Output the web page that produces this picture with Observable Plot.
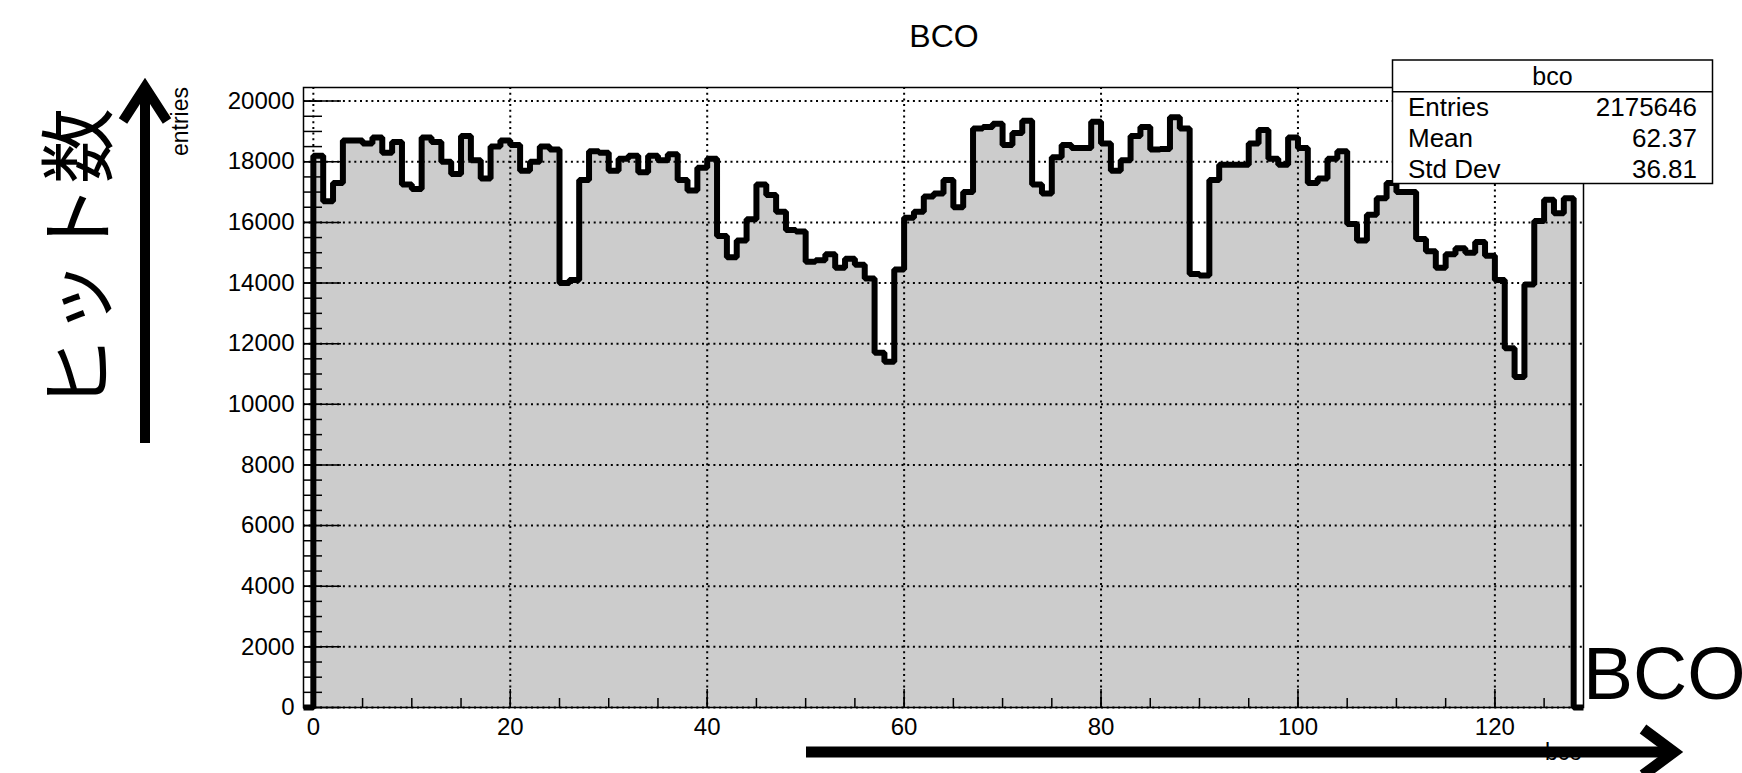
<!DOCTYPE html>
<html><head><meta charset="utf-8">
<script src="https://cdn.jsdelivr.net/npm/d3@7"></script>
<script src="https://cdn.jsdelivr.net/npm/@observablehq/plot@0.6"></script>
<style>
html,body{margin:0;padding:0;background:#fff;}
#wrap{position:relative;width:1742px;height:773px;overflow:hidden;font-family:"Liberation Sans",Arial,Helvetica,sans-serif;}
#wrap svg{position:absolute;left:0;top:0;}
</style></head><body><div id="wrap"></div>
<script>
// bin lower edges: empty bin at -1, bins 0..127, empty bin at 128
const binLow = d3.range(-1, 129);
const counts = [0,
  18200,16700,17300,18700,18700,18600,18800,18300,18650,17250,
  17100,18800,18650,18000,17600,18850,18050,17450,18500,18700,
  18550,17700,18000,18500,18400,14000,14100,17400,18350,18300,
  17700,18100,18200,17650,18200,18050,18250,17400,17050,17800,
  18100,15550,14850,15400,16100,17250,16900,16350,15750,15700,
  14700,14750,14950,14500,14800,14600,14150,11700,11400,14450,
  16150,16350,16850,16950,17400,16500,17000,19100,19150,19250,
  18550,18950,19350,17250,16950,18150,18550,18450,18450,19320,
  18600,17700,18050,18850,19150,18400,18420,19470,19100,14300,
  14250,17400,17900,17900,17900,18600,19050,18100,17900,18800,
  18450,17300,17450,18100,18350,15950,15400,16250,16800,17300,
  17000,17000,15450,15050,14500,14950,15150,15000,15350,14900,
  14100,11850,10900,13950,16050,16750,16300,16800,
  0];
const xMajor = [0,20,40,60,80,100,120];
const xMinor = [0,5,10,15,20,25,30,35,40,45,50,55,60,65,70,75,80,85,90,95,100,105,110,115,120,125];
const yMajor = [0,2000,4000,6000,8000,10000,12000,14000,16000,18000,20000];
const yMinor = d3.range(0, 20001, 500);
const xDomain = [-1, 129];
const yDomain = [0, 20449];
const statsTitle = "bco";
const statsNames = ["Entries","Mean","Std Dev"];
const statsValues = ["2175646","62.37","36.81"];

const steps = binLow.map((b, i) => ({x: b, y: counts[i]}));
steps.push({x: 129, y: 0});

const chart = Plot.plot({
  width: 1742, height: 773,
  marginLeft: 303, marginRight: 159, marginTop: 87, marginBottom: 66,
  style: {fontFamily: '"Liberation Sans",Arial,Helvetica,sans-serif', fontSize: "24px", color: "black", background: "transparent", overflow: "visible"},
  x: {domain: xDomain},
  y: {domain: yDomain},
  marks: [
    Plot.areaY(steps, {x: "x", y: "y", curve: "step-after", fill: "#cccccc"}),
    Plot.ruleX(xMajor, {stroke: "black", strokeWidth: 2, strokeDasharray: "2,3.7"}),
    Plot.ruleY(yMajor, {stroke: "black", strokeWidth: 2, strokeDasharray: "2,3.7"}),
    Plot.line(steps, {x: "x", y: "y", curve: "step-after", stroke: "black", strokeWidth: 6, strokeLinejoin: "miter", strokeLinecap: "butt"}),
    Plot.axisX(xMinor, {tickSize: -9, tickFormat: () => "", strokeWidth: 1.5, label: null}),
    Plot.axisX(xMajor, {tickSize: -18, tickPadding: 28, fontSize: 24, strokeWidth: 1.5, label: null, tickFormat: d => String(d)}),
    Plot.axisY(yMinor, {tickSize: -19, tickFormat: () => "", strokeWidth: 1.5, label: null}),
    Plot.axisY(yMajor, {tickSize: -38, tickPadding: 47, fontSize: 24, strokeWidth: 1.5, label: null, tickFormat: d => String(d)}),
    Plot.frame({stroke: "black", strokeWidth: 1.5})
  ]
});
const wrap = document.getElementById("wrap");
wrap.appendChild(chart);

// annotation overlay
const ns = "http://www.w3.org/2000/svg";
const ov = document.createElementNS(ns, "svg");
ov.setAttribute("width", 1742); ov.setAttribute("height", 773);
ov.setAttribute("font-family", '"Liberation Sans",Arial,Helvetica,sans-serif');
let html = "";
html += `<text x="944" y="47" text-anchor="middle" font-size="32">BCO</text>`;
// stats box
html += `<rect x="1392.5" y="60" width="320" height="123.5" fill="white" stroke="black" stroke-width="1.5"/>`;
html += `<line x1="1392.5" x2="1712.5" y1="91.7" y2="91.7" stroke="black" stroke-width="1.5"/>`;
html += `<text x="1552.5" y="85" text-anchor="middle" font-size="25">${statsTitle}</text>`;
statsNames.forEach((n, i) => {
  const yb = 115.5 + i * 31.2;
  html += `<text x="1408" y="${yb}" font-size="26">${n}</text>`;
  html += `<text x="1697" y="${yb}" text-anchor="end" font-size="26">${statsValues[i]}</text>`;
});
// axis titles
html += `<text transform="translate(188,87) rotate(-90)" text-anchor="end" font-size="23">entries</text>`;
html += `<text x="1582" y="760" text-anchor="end" font-size="23">bco</text>`;
// big annotations
html += `<text x="1583" y="699" font-size="75">BCO</text>`;
html += `<text transform="translate(73,260) rotate(-90)" text-anchor="middle" dominant-baseline="central" font-size="76" font-family='"Noto Sans CJK JP",sans-serif'>ヒット数</text>`;
// arrows
html += `<path d="M806,752 H1670" stroke="black" stroke-width="11" fill="none"/>`;
html += `<path d="M1643,729 L1674,752 L1643,775" stroke="black" stroke-width="11" fill="none" stroke-linejoin="miter"/>`;
html += `<path d="M145,443 V92" stroke="black" stroke-width="10" fill="none"/>`;
html += `<path d="M123,121 L145,87 L167,121" stroke="black" stroke-width="10" fill="none" stroke-linejoin="miter"/>`;
ov.innerHTML = html;
wrap.appendChild(ov);
</script>
</body></html>
